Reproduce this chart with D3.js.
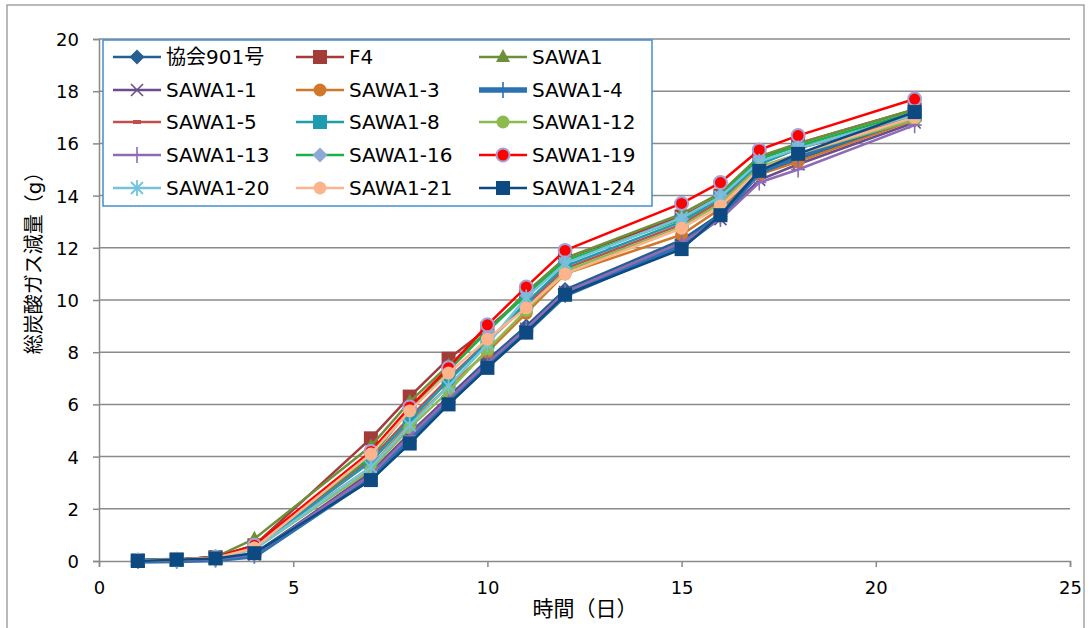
<!DOCTYPE html>
<html><head><meta charset="utf-8">
<script src="https://d3js.org/d3.v7.min.js"></script>
<style>body{margin:0;background:#fff}text{font-family:"DejaVu Sans","Noto Sans CJK JP",sans-serif}</style>
</head><body><svg id="c" width="1088" height="628"></svg>
<script>
const days = [1,2,3,4,7,8,9,10,11,12,15,16,17,18,21];
const seriesNames = ["協会901号","F4","SAWA1","SAWA1-1","SAWA1-3","SAWA1-4","SAWA1-5","SAWA1-8","SAWA1-12","SAWA1-13","SAWA1-16","SAWA1-19","SAWA1-20","SAWA1-21","SAWA1-24"];
const v901   = [0,0.02,0.08,0.3,3.3,4.8,6.3,7.7,9.0,10.4,12.3,13.3,14.8,15.4,16.9];
const vF4    = [0.02,0.05,0.15,0.6,4.7,6.3,7.75,8.9,10.2,11.6,13.2,14.0,15.4,16.0,17.3];
const vS1    = [0.02,0.05,0.15,0.85,4.4,6.1,7.5,8.8,10.3,11.6,13.3,14.1,15.5,16.0,17.3];
const vS1_1  = [0,0.02,0.08,0.25,3.4,4.9,6.3,7.6,8.9,10.3,12.2,13.1,14.6,15.2,16.8];
const vS1_3  = [0.02,0.05,0.12,0.5,3.6,5.3,6.7,8.0,9.5,11.0,12.5,13.5,14.8,15.3,16.9];
const vS1_4  = [0,0.02,0.06,0.2,3.2,4.6,6.1,7.5,8.8,10.2,12.1,13.2,14.9,15.5,17.0];
const vS1_5  = [0.02,0.05,0.15,0.55,3.9,5.5,7.0,8.4,9.8,11.2,12.9,13.8,15.2,15.8,17.0];
const vS1_8  = [0.02,0.05,0.12,0.5,3.8,5.4,6.9,8.4,9.9,11.3,13.0,13.9,15.2,15.8,17.1];
const vS1_12 = [0.02,0.05,0.12,0.45,3.5,5.1,6.5,8.1,9.6,11.1,12.8,13.7,15.1,15.6,16.9];
const vS1_13 = [0,0.02,0.08,0.25,3.3,4.8,6.2,7.6,8.9,10.3,12.2,13.1,14.5,15.0,16.7];
const vS1_16 = [0.02,0.05,0.15,0.6,4.0,5.8,7.3,8.8,10.2,11.5,13.1,14.0,15.4,15.9,17.2];
const vS1_19 = [0.02,0.05,0.15,0.6,4.2,5.9,7.4,9.05,10.5,11.9,13.7,14.5,15.75,16.3,17.7];
const vS1_20 = [0.02,0.05,0.12,0.45,3.6,5.2,6.7,8.3,10.1,11.4,13.15,13.95,15.3,15.8,17.1];
const vS1_21 = [0.02,0.05,0.12,0.5,4.1,5.75,7.2,8.5,9.7,11.0,12.75,13.6,15.0,15.6,17.0];
const vS1_24 = [0,0.05,0.1,0.3,3.1,4.5,6.0,7.4,8.75,10.2,11.95,13.25,14.95,15.6,17.2];
const seriesValues = [v901,vF4,vS1,vS1_1,vS1_3,vS1_4,vS1_5,vS1_8,vS1_12,vS1_13,vS1_16,vS1_19,vS1_20,vS1_21,vS1_24];
const xTicks = [0,5,10,15,20,25];
const yTicks = [0,2,4,6,8,10,12,14,16,18,20];
const xTitle = "時間（日）";
const yTitle = "総炭酸ガス減量（g）";

// styles
const styles = [
  {line:"#255E91", w:2.5, m:"diamond", fill:"#255E91"},
  {line:"#A33B3B", w:2.5, m:"square", fill:"#A33B3B"},
  {line:"#6E8F3A", w:2.5, m:"triangle", fill:"#6E8F3A"},
  {line:"#6B4D8B", w:2.5, m:"x", fill:"#6B4D8B"},
  {line:"#D2772A", w:2.5, m:"circle", fill:"#D2772A"},
  {line:"#2C72B0", w:5.5, m:"plus", fill:"#2C72B0"},
  {line:"#C0504D", w:2.5, m:"dash", fill:"#C0504D"},
  {line:"#1E9BB0", w:2.5, m:"square", fill:"#1E9BB0"},
  {line:"#8DBA4E", w:2.5, m:"circle", fill:"#8DBA4E"},
  {line:"#8E6BB5", w:2.5, m:"plus", fill:"#8E6BB5"},
  {line:"#1DB04B", w:2.5, m:"diamond", fill:"#8DA9D8"},
  {line:"#FF0000", w:2.5, m:"circle", fill:"#FF0000", stroke:"#A6A2D6"},
  {line:"#74C3DC", w:2.5, m:"star", fill:"#74C3DC"},
  {line:"#FBB48C", w:2.5, m:"circle", fill:"#FBB48C"},
  {line:"#0E4A82", w:2.5, m:"square", fill:"#0E4A82"}
];

const svg = d3.select("#c");
svg.append("rect").attr("x",7).attr("y",5).attr("width",1077).attr("height",640)
  .attr("fill","#fff").attr("stroke","#8C8C8C").attr("stroke-width",1.2);

const x = d3.scaleLinear().domain([0,25]).range([99,1070]);
const y = d3.scaleLinear().domain([0,20]).range([561,39]);

// gridlines
svg.append("g").selectAll("line").data(yTicks.filter(d=>d>0)).join("line")
  .attr("x1",x(0)).attr("x2",x(25)).attr("y1",d=>y(d)).attr("y2",d=>y(d))
  .attr("stroke","#8A8A8A").attr("stroke-width",1.5);

// axes
const gx = svg.append("g").attr("transform",`translate(0,${y(0)})`)
  .call(d3.axisBottom(x).tickValues(xTicks).tickSize(6).tickPadding(14));
const gy = svg.append("g").attr("transform",`translate(${x(0)},0)`)
  .call(d3.axisLeft(y).tickValues(yTicks).tickSize(6).tickPadding(14));
[gx,gy].forEach(g=>{
  g.select(".domain").attr("stroke","#8A8A8A").attr("stroke-width",1.5);
  g.selectAll(".tick line").attr("stroke","#8A8A8A").attr("stroke-width",1.5);
  g.selectAll(".tick text").attr("font-size",18).attr("fill","#000")
   .attr("font-family",'"DejaVu Sans",sans-serif');
});
gy.selectAll(".tick text").attr("dy","0.36em");

svg.append("text").attr("x",585).attr("y",616).attr("text-anchor","middle")
  .attr("font-size",21).attr("font-family",'"Noto Sans CJK JP",sans-serif').text(xTitle);
svg.append("text").attr("transform","translate(41,258) rotate(-90)").attr("text-anchor","middle")
  .attr("font-size",20).attr("font-family",'"Noto Sans CJK JP",sans-serif').text(yTitle);

function drawMarker(g, type, cx, cy, st){
  const f = st.fill, s = st.stroke;
  if(type==="square"){
    g.append("rect").attr("x",cx-7).attr("y",cy-7).attr("width",14).attr("height",14).attr("fill",f);
  } else if(type==="diamond"){
    g.append("path").attr("d",`M${cx},${cy-7.5}L${cx+7.5},${cy}L${cx},${cy+7.5}L${cx-7.5},${cy}Z`).attr("fill",f);
  } else if(type==="triangle"){
    g.append("path").attr("d",`M${cx},${cy-8}L${cx+7},${cy+5}L${cx-7},${cy+5}Z`).attr("fill",f);
  } else if(type==="circle"){
    g.append("circle").attr("cx",cx).attr("cy",cy).attr("r",6.5).attr("fill",f)
      .attr("stroke",s||"none").attr("stroke-width",s?2:0);
  } else if(type==="x"){
    g.append("path").attr("d",`M${cx-6},${cy-6}L${cx+6},${cy+6}M${cx-6},${cy+6}L${cx+6},${cy-6}`)
      .attr("stroke",f).attr("stroke-width",1.6);
  } else if(type==="plus"){
    g.append("path").attr("d",`M${cx-7},${cy}L${cx+7},${cy}M${cx},${cy-8}L${cx},${cy+8}`)
      .attr("stroke",f).attr("stroke-width",1.6);
  } else if(type==="star"){
    g.append("path").attr("d",`M${cx-6},${cy-6}L${cx+6},${cy+6}M${cx-6},${cy+6}L${cx+6},${cy-6}M${cx},${cy-8}L${cx},${cy+8}`)
      .attr("stroke",f).attr("stroke-width",1.8);
  } else if(type==="dash"){
    g.append("rect").attr("x",cx-4).attr("y",cy-2).attr("width",8).attr("height",4).attr("fill",f);
  }
}

const line = d3.line().x(d=>x(d[0])).y(d=>y(d[1]));
const plot = svg.append("g");
seriesValues.forEach((vals,i)=>{
  const st = styles[i];
  const pts = days.map((d,j)=>[d,vals[j]]);
  const g = plot.append("g");
  g.append("path").attr("d",line(pts)).attr("fill","none").attr("stroke",st.line)
    .attr("stroke-width",st.w).attr("stroke-linejoin","round");
  pts.forEach(p=>drawMarker(g, st.m, x(p[0]), y(p[1]), st));
});

// legend
const lg = svg.append("g");
lg.append("rect").attr("x",103).attr("y",40).attr("width",549).attr("height",166)
  .attr("fill","#fff").attr("stroke","#3F8FD2").attr("stroke-width",1.5);
const colX = [113,296,479];
const rowY = [57,90,122,155,188];
seriesNames.forEach((name,i)=>{
  const st = styles[i];
  const cx0 = colX[i%3], cy = rowY[Math.floor(i/3)];
  const g = lg.append("g");
  g.append("line").attr("x1",cx0).attr("x2",cx0+48).attr("y1",cy).attr("y2",cy)
    .attr("stroke",st.line).attr("stroke-width",st.w);
  drawMarker(g, st.m, cx0+24, cy, st);
  g.append("text").attr("x",cx0+53).attr("y",cy).attr("dy","0.36em")
    .attr("font-size",20).attr("fill","#000").text(name);
});
</script></body></html>
